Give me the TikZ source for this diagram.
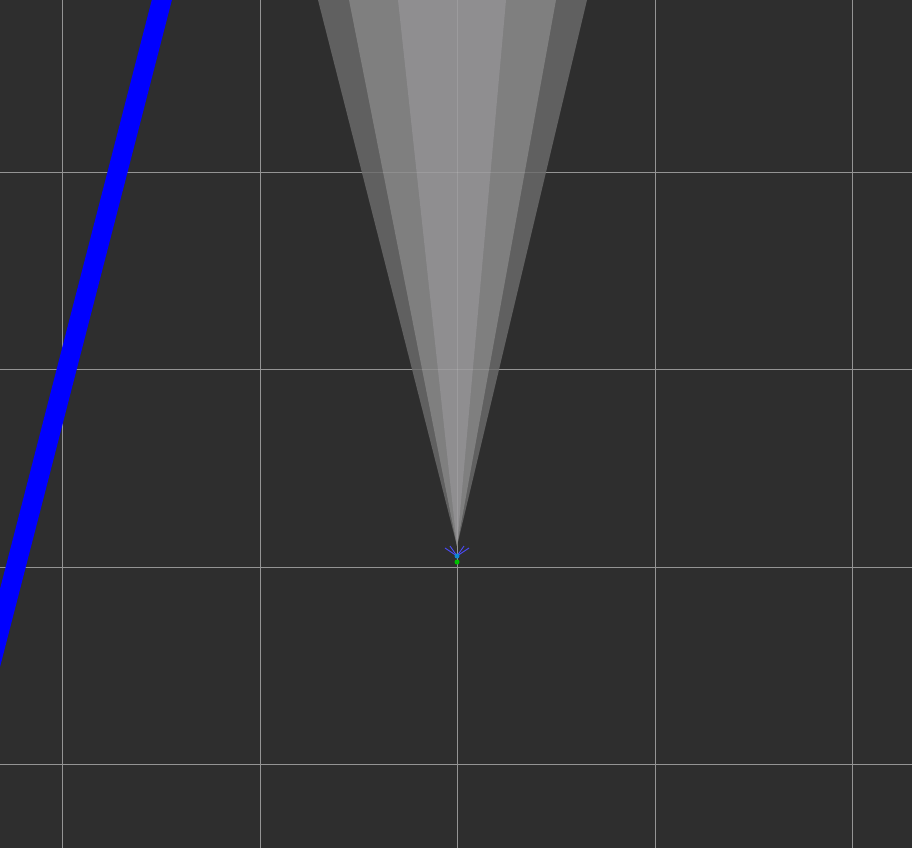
\documentclass[tikz,border=0pt]{standalone}
\begin{document}
\begin{tikzpicture}[x=0.02cm,y=-0.02cm,
  gridline/.style={draw=white!58!black,line width=0.5pt},
  faintgrid/.style={draw=white,draw opacity=0.12,line width=0.5pt}]
\definecolor{bg}{HTML}{2E2E2E}
\definecolor{coneouter}{HTML}{606060}
\definecolor{conemid}{HTML}{7F7F7F}
\definecolor{coneinner}{HTML}{8F8E90}
\definecolor{lineblue}{HTML}{0000FF}
\useasboundingbox (0,0) rectangle (912,848);
\clip (0,0) rectangle (912,848);
\fill[bg] (0,0) rectangle (912,848);
% grid
\foreach \gx in {62,260,457,655,852} \draw[gridline] (\gx,0) -- (\gx,848);
\foreach \gy in {172,369,567,764} \draw[gridline] (0,\gy) -- (912,\gy);
% cone (layered)
\coordinate (apex) at (457,546);
\fill[coneouter] (apex) -- (318,0) -- (587,0) -- cycle;
\fill[conemid] (apex) -- (349,0) -- (556,0) -- cycle;
\fill[coneinner] (apex) -- (398,0) -- (506,0) -- cycle;
\begin{scope}
\clip (apex) -- (318,0) -- (587,0) -- cycle;
\draw[faintgrid] (457,0) -- (457,546);
\draw[faintgrid] (300,172) -- (600,172);
\draw[faintgrid] (300,369) -- (600,369);
\end{scope}
% blue line
\coordinate (btop) at (167,-20);
\coordinate (bbot) at (-25,725);
\draw[lineblue,line width=0.39cm] (btop) -- (bbot);
% marker at apex
\coordinate (mk) at (457,556);
\draw[blue!70!white,line width=0.5pt] (mk) -- ++(-12,-8);
\draw[blue!70!white,line width=0.5pt] (mk) -- ++(12,-8);
\draw[blue!70!white,line width=0.5pt] (mk) -- ++(-7,-10);
\draw[blue!70!white,line width=0.5pt] (mk) -- ++(7,-10);
\fill[cyan!70!blue] (mk) circle (2.5);
\fill[green!75!black] (457,562) circle (2.5);
\end{tikzpicture}
\end{document}
